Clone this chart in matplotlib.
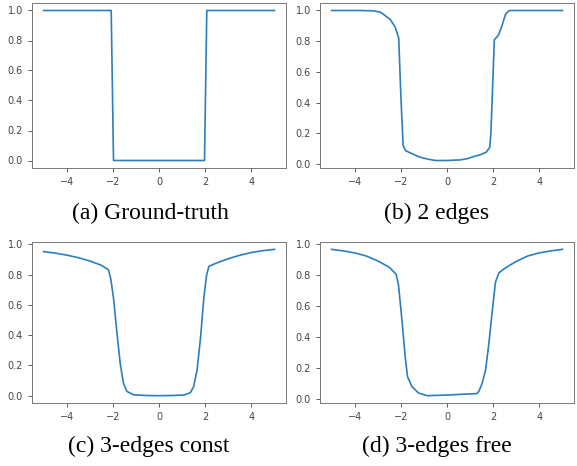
import matplotlib
matplotlib.use('Agg')
from matplotlib import pyplot as plt

# (a) ground truth step
gt_x = [-5.0, -2.07, -1.97, 1.97, 2.07, 5.0]
gt_y = [1.0, 1.0, 0.0, 0.0, 1.0, 1.0]

# (b) 2 edges
two_x = [-5.0, -3.8, -3.2, -2.9, -2.74, -2.45, -2.24, -2.09, -2.0, -1.9, -1.8,
         -1.5, -1.16, -0.8, -0.5, 0.0, 0.58, 0.9, 1.16, 1.45, 1.7, 1.85, 1.9,
         1.98, 2.05, 2.15, 2.24, 2.38, 2.53, 2.62, 2.71, 3.0, 5.0]
two_y = [1.0, 1.0, 0.998, 0.99, 0.974, 0.94, 0.89, 0.82, 0.45, 0.12, 0.087,
         0.065, 0.043, 0.03, 0.022, 0.022, 0.026, 0.035, 0.048, 0.06, 0.076, 0.108, 0.195,
         0.52, 0.81, 0.825, 0.844, 0.9, 0.974, 0.99, 1.0, 1.0, 1.0]

# (c) 3-edges const
const_x = [-5.0, -4.5, -4.0, -3.5, -3.0, -2.5, -2.19, -2.09, -1.97, -1.83, -1.68, -1.54,
           -1.39, -1.1, -0.5, 0.0, 0.5, 1.07, 1.36, 1.5, 1.65, 1.8, 1.94, 2.06,
           2.16, 2.5, 3.0, 3.5, 4.0, 4.5, 5.0]
const_y = [0.952, 0.942, 0.929, 0.912, 0.89, 0.862, 0.832, 0.773, 0.644, 0.428, 0.212, 0.082,
           0.028, 0.006, 0.001, 0.0, 0.001, 0.004, 0.02, 0.06, 0.17, 0.385, 0.644, 0.795,
           0.855, 0.877, 0.905, 0.928, 0.946, 0.958, 0.967]

# (d) 3-edges free
free_x = [-5.0, -4.5, -4.0, -3.5, -3.0, -2.5, -2.2, -2.1, -1.96, -1.81, -1.71, -1.52,
          -1.23, -0.87, 0.0, 0.87, 1.28, 1.38, 1.52, 1.67, 1.81, 1.96, 2.1,
          2.25, 2.5, 3.0, 3.5, 4.0, 4.5, 5.0]
free_y = [0.968, 0.958, 0.945, 0.925, 0.893, 0.852, 0.806, 0.736, 0.524, 0.271, 0.144, 0.08,
          0.038, 0.021, 0.025, 0.032, 0.034, 0.049, 0.1, 0.186, 0.355, 0.567, 0.757,
          0.816, 0.845, 0.89, 0.925, 0.945, 0.958, 0.968]

captions = ['(a) Ground-truth', '(b) 2 edges', '(c) 3-edges const', '(d) 3-edges free']
series = [(gt_x, gt_y), (two_x, two_y), (const_x, const_y), (free_x, free_y)]

W, H = 577, 466
fig = plt.figure(figsize=(W / 100, H / 100), dpi=100)

# axes boxes in pixels: left, top, right, bottom
boxes = [(32, 3, 286, 168), (320, 3, 574, 168),
         (32, 242, 286, 403), (320, 242, 574, 403)]
cap_pos = [(150, 213), (437, 213), (149, 446), (437, 446)]

for (xs, ys), (l, t, r, b), cap, (cx, cy) in zip(series, boxes, captions, cap_pos):
    ax = fig.add_axes([l / W, 1 - b / H, (r - l) / W, (b - t) / H])
    ax.plot(xs, ys, color='#2b7fc0', linewidth=1.2)
    ax.set_xticks([-4, -2, 0, 2, 4])
    ax.tick_params(labelsize=7, colors='#444', length=3, width=0.6)
    for sp in ax.spines.values():
        sp.set_color('#777')
        sp.set_linewidth(0.7)
    fig.text(cx / W, 1 - cy / H, cap, ha='center', va='center',
             fontsize=17, family='Liberation Serif')

fig.savefig('out.png', dpi=100)
